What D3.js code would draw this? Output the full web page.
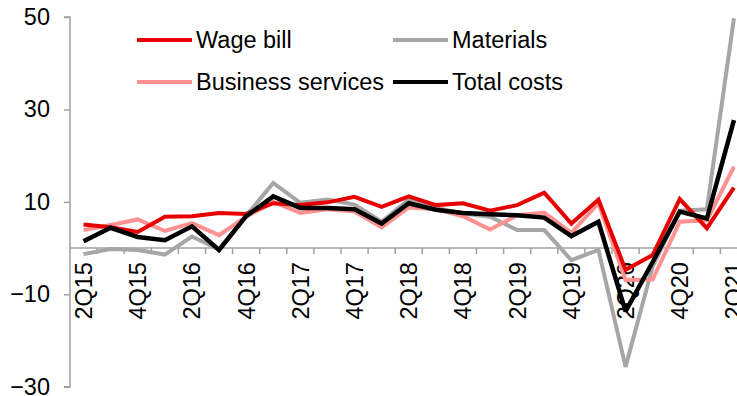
<!DOCTYPE html>
<html>
<head>
<meta charset="utf-8">
<script src="https://cdn.jsdelivr.net/npm/d3@7"></script>
<style>
  html, body { margin: 0; padding: 0; background: #fff; }
  svg { display: block; font-family: "Liberation Sans", Arial, sans-serif; }
</style>
</head>
<body>
<svg id="chart" width="737" height="396"></svg>
<script>
// Quarterly cost growth, % y/y
const quarters = ["2Q15","3Q15","4Q15","1Q16","2Q16","3Q16","4Q16","1Q17","2Q17","3Q17","4Q17","1Q18",
                  "2Q18","3Q18","4Q18","1Q19","2Q19","3Q19","4Q19","1Q20","2Q20","3Q20","4Q20","1Q21","2Q21"];
const xTickLabels = ["2Q15","4Q15","2Q16","4Q16","2Q17","4Q17","2Q18","4Q18","2Q19","4Q19","2Q20","4Q20","2Q21"];
const yTicks = [-30, -10, 10, 30, 50];

const wageBill = [5.1, 4.5, 3.5, 6.8, 6.9, 7.6, 7.4, 9.7, 9.3, 9.9, 11.1, 8.9, 11.2, 9.3, 9.7, 8.1, 9.3, 12.0, 5.3, 10.5, -4.7, -1.5, 10.6, 4.3, 13.1];
const materials = [-1.3, -0.2, -0.4, -1.4, 2.5, -0.3, 7.0, 14.1, 9.8, 10.5, 9.4, 5.7, 10.5, 8.7, 7.5, 6.8, 3.9, 3.9, -2.6, -0.4, -25.7, -4.0, 8.1, 8.4, 49.7];
const businessServices = [3.9, 5.0, 6.2, 3.7, 5.4, 2.8, 6.8, 10.0, 7.6, 8.4, 7.9, 4.5, 8.8, 8.4, 6.9, 4.0, 7.1, 7.7, 3.3, 9.7, -6.9, -6.8, 5.7, 6.0, 17.6];
const totalCosts = [1.5, 4.4, 2.4, 1.7, 4.7, -0.4, 6.9, 11.2, 8.7, 8.7, 8.4, 5.3, 9.7, 8.3, 7.6, 7.3, 7.1, 6.6, 2.6, 5.7, -13.7, -3.0, 7.9, 6.4, 27.7];

const series = [
  { name: "Materials", values: materials, color: "#a6a6a6", width: 4 },
  { name: "Business services", values: businessServices, color: "#ff9191", width: 4 },
  { name: "Wage bill", values: wageBill, color: "#e60000", width: 4 },
  { name: "Total costs", values: totalCosts, color: "#000000", width: 4.5 }
];

const svg = d3.select("#chart");
const axisColor = "#a0a0a0";
const fontSize = 23.5;

const x = d3.scaleBand().domain(quarters).range([70, 747.5]).padding(0);
const y = d3.scaleLinear().domain([-30, 50]).range([386.75, 17]);

// Vertical axis
const yAxisG = svg.append("g").attr("transform", "translate(70,0)")
  .call(d3.axisLeft(y).tickValues(yTicks).tickSize(6).tickPadding(14).tickFormat(d3.format("d")));
yAxisG.select(".domain").attr("stroke", axisColor).attr("stroke-width", 1.5)
  .attr("d", `M-6,${y(50)}H0V${y(-30)}H-6`);
yAxisG.selectAll(".tick line").attr("stroke", axisColor).attr("stroke-width", 1.5);
yAxisG.selectAll(".tick text").attr("fill", "#000").style("font-size", fontSize + "px")
  .style("font-family", '"Liberation Sans", Arial, sans-serif');

// Horizontal axis at zero, ticks on category boundaries
const xAxisG = svg.append("g").attr("transform", `translate(0,${y(0)})`);
xAxisG.append("line").attr("x1", 70).attr("x2", 747.5).attr("y1", 0).attr("y2", 0)
  .attr("stroke", axisColor).attr("stroke-width", 1.5);
xAxisG.selectAll("line.tk").data(quarters.slice(1)).enter().append("line")
  .attr("class", "tk")
  .attr("x1", d => x(d)).attr("x2", d => x(d))
  .attr("y1", 0).attr("y2", 6)
  .attr("stroke", axisColor).attr("stroke-width", 1.5);
xAxisG.selectAll("text").data(xTickLabels).enter().append("text")
  .attr("transform", d => `translate(${x(d) + x.bandwidth() / 2},14) rotate(-90)`)
  .attr("text-anchor", "end")
  .attr("dy", "0.36em")
  .style("font-size", fontSize + "px")
  .attr("fill", "#000")
  .text(d => d);

// Series lines
const line = d3.line()
  .x((d, i) => x(quarters[i]) + x.bandwidth() / 2)
  .y(d => y(d));

svg.append("g").selectAll("path").data(series).enter().append("path")
  .attr("d", d => line(d.values))
  .attr("fill", "none")
  .attr("stroke", d => d.color)
  .attr("stroke-width", d => d.width)
  .attr("stroke-linejoin", "miter")
  .attr("stroke-miterlimit", 2);

// Legend
const legendItems = [
  { name: "Wage bill", color: "#e60000", lx: 137, ly: 40 },
  { name: "Materials", color: "#a6a6a6", lx: 393, ly: 40 },
  { name: "Business services", color: "#ff9191", lx: 137, ly: 82 },
  { name: "Total costs", color: "#000000", lx: 393, ly: 82 }
];
const lg = svg.append("g").selectAll("g").data(legendItems).enter().append("g")
  .attr("transform", d => `translate(${d.lx},${d.ly})`);
lg.append("line").attr("x1", 0).attr("x2", 55).attr("y1", 0).attr("y2", 0)
  .attr("stroke", d => d.color).attr("stroke-width", 4);
lg.append("text").attr("x", 59).attr("dy", "0.35em")
  .style("font-size", fontSize + "px").attr("fill", "#000")
  .text(d => d.name);
</script>
</body>
</html>
